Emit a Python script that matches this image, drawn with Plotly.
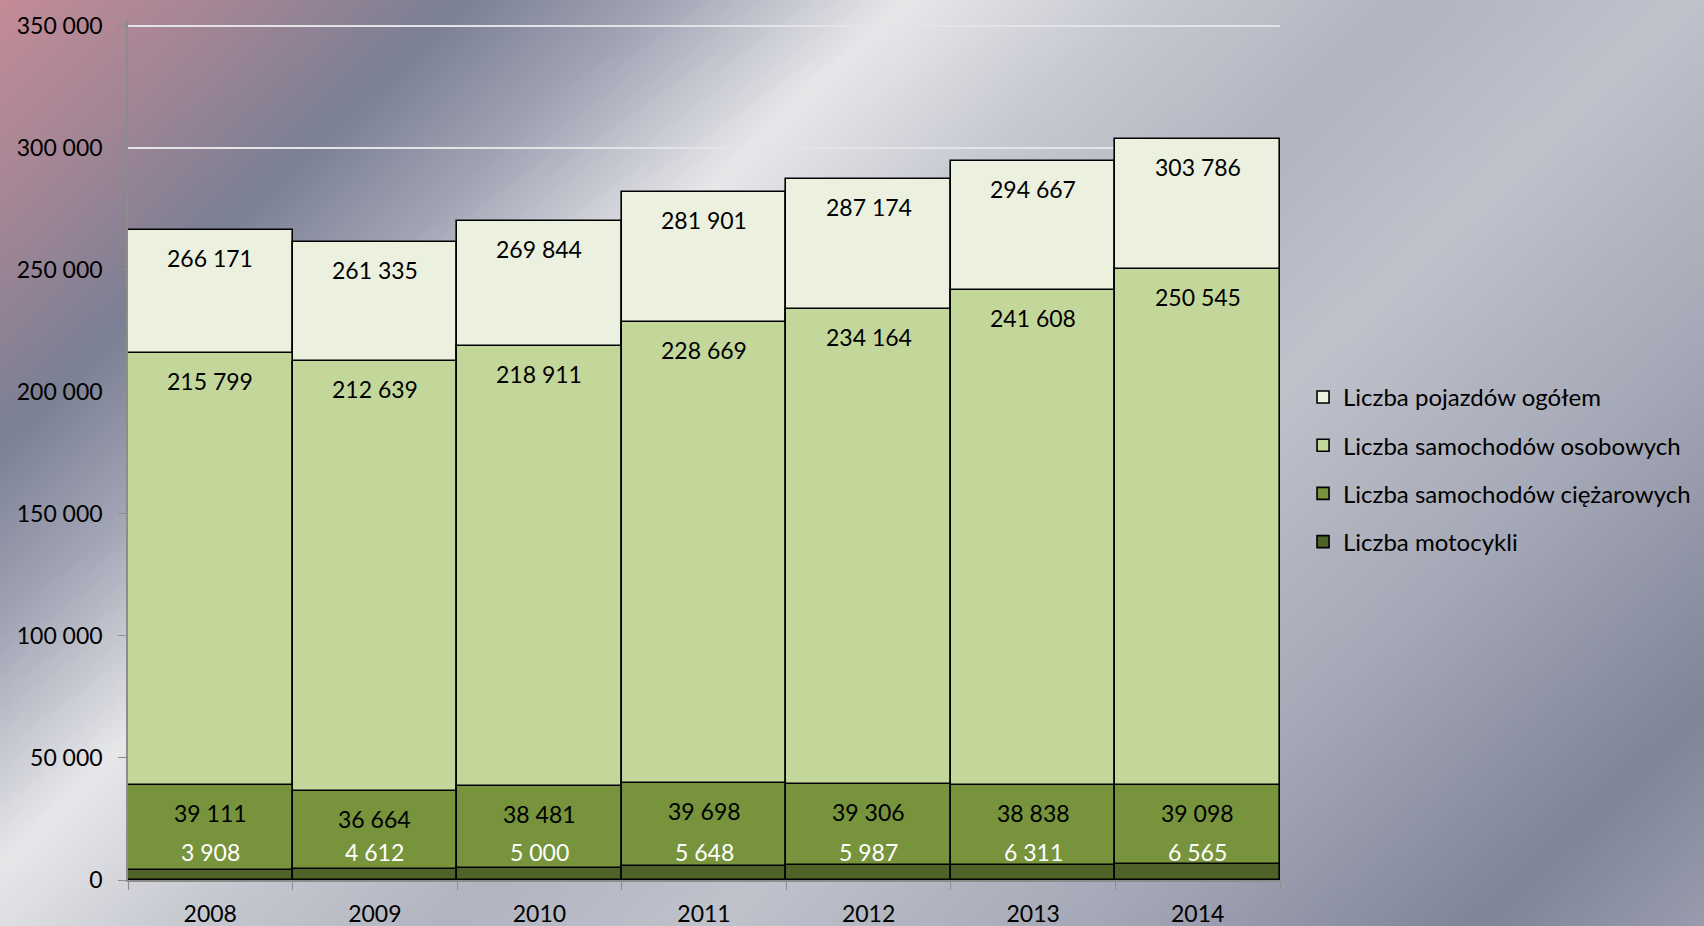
import base64
import struct
import zlib

import numpy as np
import plotly.graph_objects as go

# data
years = ["2008", "2009", "2010", "2011", "2012", "2013", "2014"]
ogolem = [266171, 261335, 269844, 281901, 287174, 294667, 303786]
osobowe = [215799, 212639, 218911, 228669, 234164, 241608, 250545]
ciezarowe = [39111, 36664, 38481, 39698, 39306, 38838, 39098]
motocykle = [3908, 4612, 5000, 5648, 5987, 6311, 6565]
y_ticks = [0, 50000, 100000, 150000, 200000, 250000, 300000, 350000]

names = ["Liczba pojazdów ogółem", "Liczba samochodów osobowych",
         "Liczba samochodów ciężarowych", "Liczba motocykli"]
colors = ["#EBF0DF", "#C4D79B", "#77933C", "#4F6228"]

W, H = 1704, 926
L, R, T, B = 128, 1280, 21, 880
YMAX = 352000


def fmt(v):
    return f"{v:,}".replace(",", " ")


def gradient_png(w, h):
    # metallic diagonal background
    yy, xx = np.mgrid[0:h, 0:w]
    t = (xx * (1704 / w) + 1.05 * yy * (926 / h)) / 1.0867
    stops = [0, 200, 420, 600, 830, 1050, 1300, 1550, 1900, 2250, 2600]
    cols = np.array([
        (196, 140, 150), (165, 134, 150), (124, 128, 148), (160, 164, 180),
        (232, 232, 235), (200, 202, 210), (178, 180, 192), (192, 194, 204),
        (165, 168, 182), (128, 133, 154), (170, 172, 186)], dtype=float)
    img = np.zeros((h, w, 3))
    for c in range(3):
        img[..., c] = np.interp(t, stops, cols[:, c])
    img = img.clip(0, 255).astype(np.uint8)
    raw = b"".join(b"\x00" + img[r].tobytes() for r in range(h))

    def chunk(tag, data):
        c = struct.pack(">I", len(data)) + tag + data
        return c + struct.pack(">I", zlib.crc32(tag + data) & 0xffffffff)

    png = b"\x89PNG\r\n\x1a\n"
    png += chunk(b"IHDR", struct.pack(">IIBBBBB", w, h, 8, 2, 0, 0, 0))
    png += chunk(b"IDAT", zlib.compress(raw, 9))
    png += chunk(b"IEND", b"")
    return "data:image/png;base64," + base64.b64encode(png).decode()


fig = go.Figure()
for i, vals in enumerate([ogolem, osobowe, ciezarowe, motocykle]):
    fig.add_trace(go.Bar(x=years, y=vals, name=names[i], width=1,
                         marker=dict(color=colors[i], line=dict(color="black", width=1.6)),
                         legendgroup=str(i), hoverinfo="x+y"))

# data labels (x = category index on the category axis)
for vals in [ogolem, osobowe, ciezarowe]:
    for i, v in enumerate(vals):
        fig.add_annotation(x=i, y=v, text=fmt(v), showarrow=False, yanchor="middle",
                           yshift=-28, font=dict(size=23, color="black"))
# motorcycle labels sit at a fixed height above the bar base
for i, v in enumerate(motocykle):
    fig.add_annotation(x=i, y=0, text=fmt(v), showarrow=False, yanchor="middle",
                       yshift=28, font=dict(size=23, color="white"))

pw, ph = R - L, B - T
fig.add_layout_image(source=gradient_png(426, 232), xref="paper", yref="paper",
                     x=-L / pw, y=1 + T / ph, sizex=W / pw, sizey=H / ph,
                     xanchor="left", yanchor="top", sizing="stretch", layer="below")

fig.update_layout(
    width=W, height=H,
    margin=dict(l=L, r=W - R, t=T, b=H - B, autoexpand=False),
    barmode="overlay", bargap=0,
    separators=", ",
    font=dict(family="Lato, Calibri, sans-serif", size=23, color="black"),
    paper_bgcolor="#b0b2be", plot_bgcolor="rgba(0,0,0,0)",
    showlegend=True,
    legend=dict(x=1.02, y=0.588, xanchor="left", yanchor="top", traceorder="grouped",
                tracegroupgap=14, font=dict(size=24), bgcolor="rgba(0,0,0,0)"),
    xaxis=dict(type="category", range=[-0.5, 6.5], showgrid=False, showline=True,
               linecolor="#8c8c8c", linewidth=1.5, ticks="outside", tickson="boundaries",
               ticklen=8, tickcolor="#8c8c8c", ticklabelstandoff=13, tickangle=0,
               automargin=False),
    yaxis=dict(range=[0, YMAX], tickvals=y_ticks, tickformat=",d", showgrid=True,
               gridcolor="#e4e4e8", gridwidth=2, showline=True, linecolor="#8c8c8c",
               linewidth=1.5, ticks="outside", ticklen=8, tickcolor="#8c8c8c",
               ticklabelstandoff=11, zeroline=False, automargin=False),
)

fig.write_html("out.html", config={"displayModeBar": False},
               post_script="document.body.style.margin = '0';")
